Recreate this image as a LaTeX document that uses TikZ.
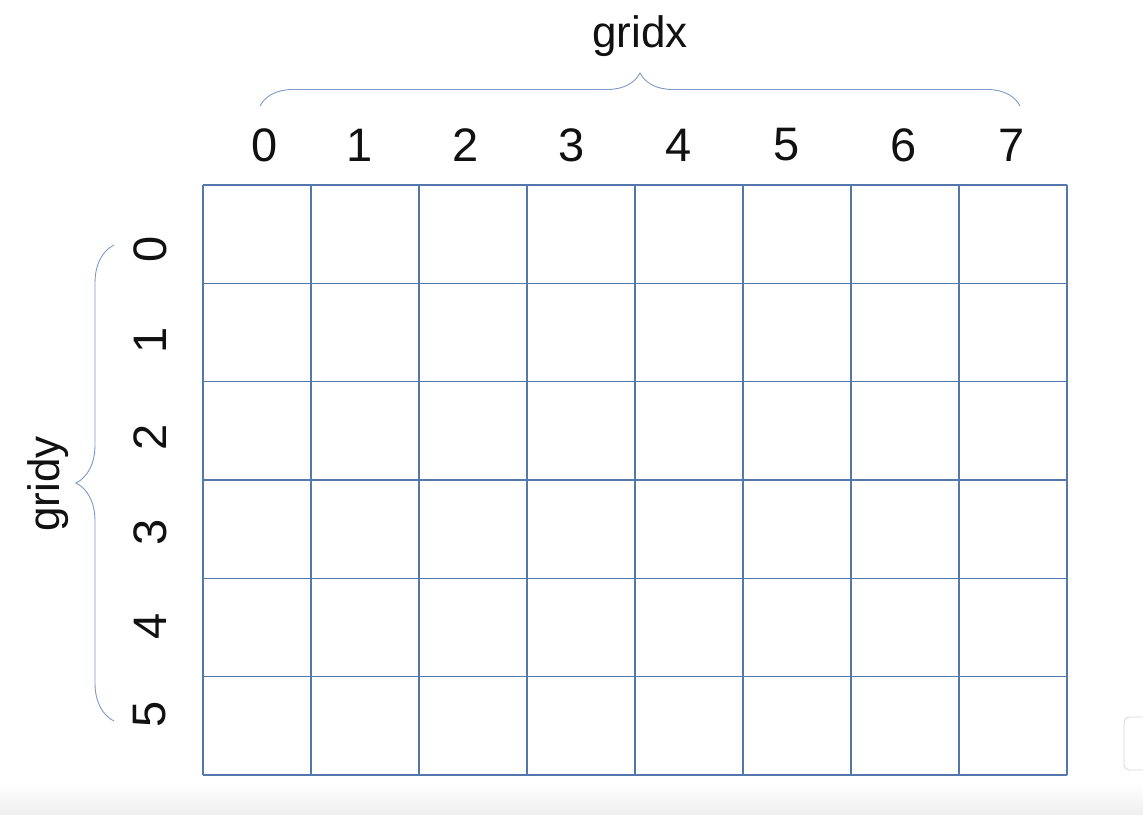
\documentclass[tikz,border=0pt]{standalone}
\usepackage{fontspec}
\setmainfont{Liberation Sans}
\usepackage{xcolor}
\usetikzlibrary{calc,decorations.pathreplacing}
\definecolor{gridline}{HTML}{5477AD}
\definecolor{bracecol}{HTML}{7E9AC6}
\definecolor{textcol}{HTML}{111111}
\definecolor{barcol}{HTML}{EFEFEF}
\definecolor{widget}{HTML}{D6D6D6}
\newcommand{\Cells}[4]{%
  \foreach \c in {0,...,8}
    \draw[color=gridline, line width=1.1pt] ({#1+\c*#3},#2) -- ++(0,{6*#4});
  \foreach \r in {0,...,6}
    \draw[color=gridline, line width=1.1pt] (#1,{#2+\r*#4}) -- ++({8*#3},0);
}

\begin{document}
\begin{tikzpicture}[x=1pt,y=-1pt]
  \useasboundingbox (0,0) rectangle (1143,814);
  \shade[top color=white, bottom color=barcol] (0,782) rectangle (1143,814);
  \draw[color=widget, line width=0.8pt, rounded corners=6pt] (1124,717) rectangle (1160,770);
  % the grid, 8 columns and 6 rows
  \Cells{203}{185}{108}{98.33}
  % column numbers
  \foreach \i/\xx in {0/265,1/360,2/466,3/572,4/679,5/787,6/904,7/1012}
    \node[color=textcol, font=\fontsize{47}{50}\selectfont] (col\i) at (\xx,145) {\i};
  % row numbers
  \foreach \j/\yy in {0/249,1/340,2/437,3/532,4/626,5/714}
    \node[color=textcol, rotate=90, font=\fontsize{47}{50}\selectfont] (row\j) at (150,\yy) {\j};
  \coordinate (xl) at (260,106);
  \coordinate (xr) at (1020,106);
  \coordinate (yb) at (114,721);
  \coordinate (yt) at (114,245);
  \draw[color=bracecol, line width=0.9pt, decorate, decoration={brace,amplitude=33pt}] (xl) -- (xr);
  \draw[color=bracecol, line width=0.9pt, decorate, decoration={brace,amplitude=38pt}] (yb) -- (yt);
  \node[color=textcol, font=\fontsize{44}{48}\selectfont] (gx) at (640,36) {gridx};
  \node[color=textcol, rotate=90, font=\fontsize{44}{48}\selectfont] (gy) at (48,484) {gridy};
\end{tikzpicture}
\end{document}
